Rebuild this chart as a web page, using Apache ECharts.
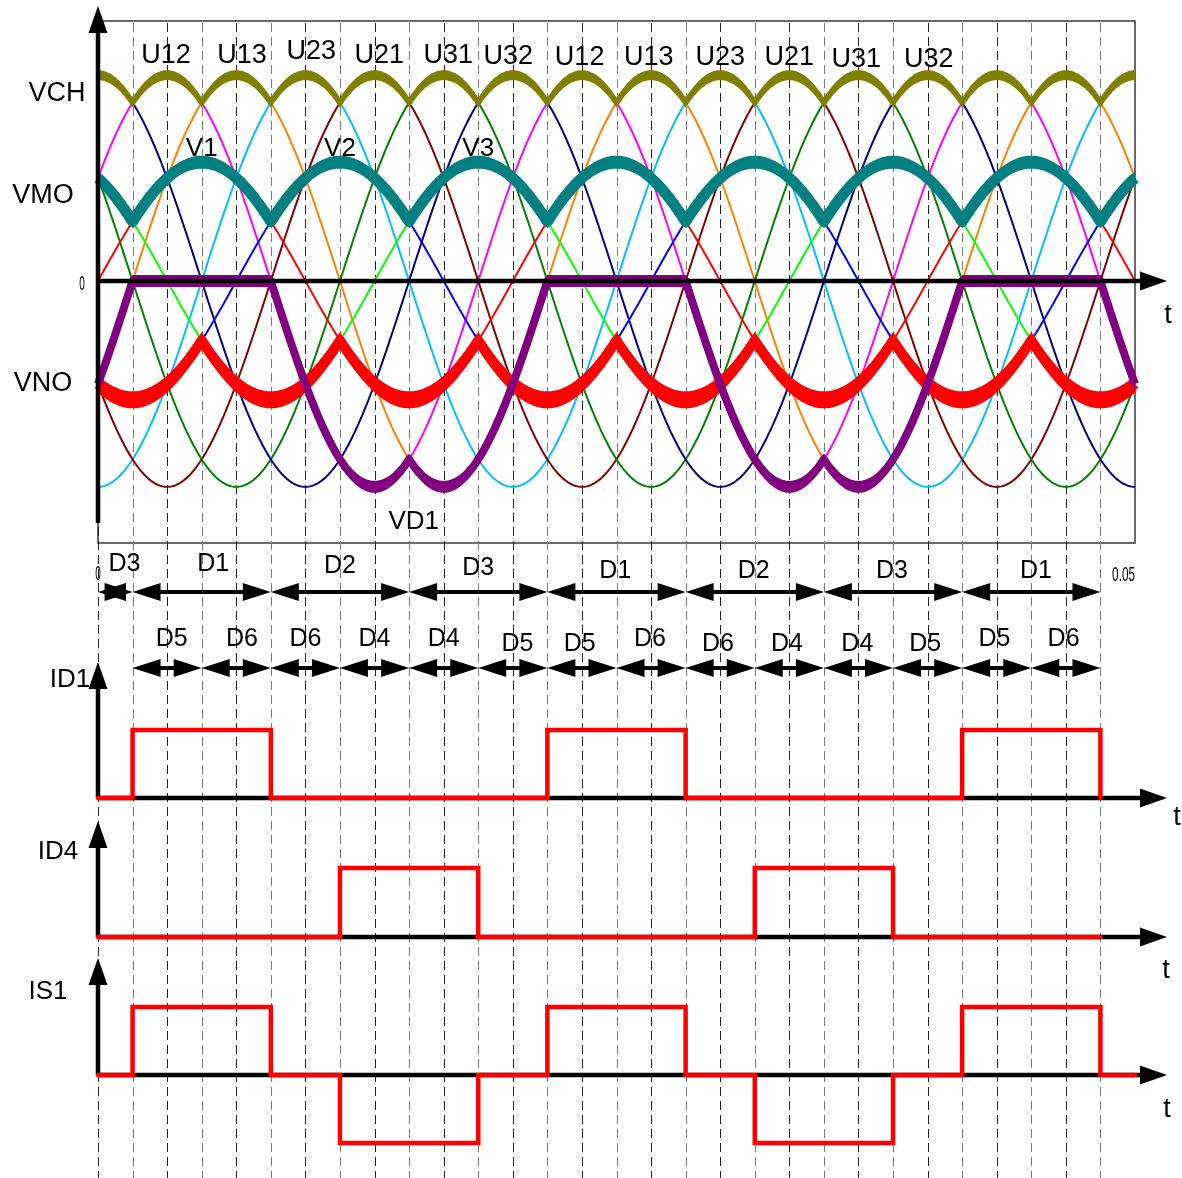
<!DOCTYPE html>
<html><head><meta charset="utf-8">
<script src="https://cdn.jsdelivr.net/npm/echarts@6/dist/echarts.min.js"></script>
<style>html,body{margin:0;padding:0;background:#fff}#c{width:1182px;height:1178px}</style>
</head><body><div id="c"></div>
<script>
// ================= DATA =================
const frequencyHz = 50;               // mains frequency (20 ms per 360 deg)
const timeEndS = 0.05;                // right edge of the plots, s
const degEnd = 900;                   // electrical degrees at timeEndS
const phaseNames = ['V1', 'V2', 'V3'];
const phaseShiftDeg = [0, -120, 120];
const phaseAmplitude = 0.577;         // p.u. (line-to-line peak = 1)
const phaseColors = ['#ff0000', '#0000ff', '#00ff00'];
const lineVoltageNames = ['U12', 'U13', 'U23', 'U21', 'U31', 'U32'];
const lineVoltagePairs = [[0, 1], [0, 2], [1, 2], [1, 0], [2, 0], [2, 1]];
const lineVoltageColors = ['#ff00ff', '#ff8000', '#00bfff', '#800000', '#008000', '#000080'];
const lineLabelText = ['U12','U13','U23','U21','U31','U32','U12','U13','U23','U21','U31','U32'];
const lineLabelDeg  = [59, 125, 185, 244, 304, 356, 418, 478, 540, 600, 658, 721];
const phaseLabelText = ['V1', 'V2', 'V3'];
const phaseLabelDeg  = [90, 210, 330];
const vd1LabelDeg = 274;
// conduction intervals, degrees
const upperDiodes = [['D3',0,30],['D1',30,150],['D2',150,270],['D3',270,390],['D1',390,510],['D2',510,630],['D3',630,750],['D1',750,870]];
const upperLabelDeg = [23, 100, 210, 330, 449, 569, 689, 814];
const lowerDiodes = [['D5',30,90],['D6',90,150],['D6',150,210],['D4',210,270],['D4',270,330],['D5',330,390],['D5',390,450],['D6',450,510],['D6',510,570],['D4',570,630],['D4',630,690],['D5',690,750],['D5',750,810],['D6',810,870]];
const lowerLabelDeg = [64, 125, 180, 240, 300, 364, 418, 479, 538, 598, 659, 718, 778, 838];
const id1OnDeg = [[30, 150], [390, 510], [750, 870]];
const id4OnDeg = [[210, 330], [570, 690]];
const id1EndDeg = 870, id4EndDeg = 870, is1EndDeg = 900;
const tickLabels = ['0', '0.05'];

// ================= LAYOUT / STYLE =================
const W = 1182, H = 1178;
const PL = 98, PR = 47;                 // plot left / right margins
const BOX_TOP = 21, BOX_BOT = 543;      // top panel frame
const TOP_ZERO = 281, TOP_UNIT = 206;   // px of zero line, px per p.u.
const lowerPanels = [
  {name: 'ID1', zero: 798, unit: 68, tip: 662, lab: [70, 680], t: [1177, 818]},
  {name: 'ID4', zero: 937, unit: 69, tip: 821, lab: [58, 852], t: [1166, 971]},
  {name: 'IS1', zero: 1075, unit: 68, tip: 958, lab: [48, 992], t: [1167, 1110]}
];
const FONT = '"Liberation Sans", Arial, Helvetica, sans-serif';
const lineLabelY = [55, 55, 51, 55, 55, 56, 57, 57, 57, 57, 59, 59];
const upperLabelY = [563, 563, 565, 567, 570, 570, 570, 570];
const lowerLabelY = [638, 638, 638, 638, 638, 643, 643, 638, 643, 643, 643, 643, 638, 638];
const ROW1_Y = 592, ROW2_Y = 668;

// ================= WAVEFORMS =================
const stepDeg = 0.5;
const thetas = [];
for (let k = 0; k * stepDeg <= degEnd + 1e-9; k++) thetas.push(k * stepDeg);
const rad = Math.PI / 180;
const phaseWave = phaseShiftDeg.map(s => thetas.map(d => phaseAmplitude * Math.sin((d + s) * rad)));
const lineWave = lineVoltagePairs.map(([a, b]) => thetas.map((d, i) => phaseWave[a][i] - phaseWave[b][i]));
const vch = thetas.map((d, i) => Math.max(...lineWave.map(w => w[i])));
const vmo = thetas.map((d, i) => Math.max(...phaseWave.map(w => w[i])));
const vno = thetas.map((d, i) => Math.min(...phaseWave.map(w => w[i])));
const vd1 = thetas.map((d, i) => phaseWave[0][i] - vmo[i]);
const pairs = arr => thetas.map((d, i) => [d, arr[i]]);

function stepPoints(intervals, endDeg) {
  const pts = [[0, 0]];
  intervals.slice().sort((p, q) => p[0] - q[0]).forEach(([a, b, lv]) => {
    pts.push([a, 0], [a, lv], [b, lv], [b, 0]);
  });
  pts.push([endDeg, 0]);
  return pts;
}
const id1Pts = stepPoints(id1OnDeg.map(v => [v[0], v[1], 1]), id1EndDeg);
const id4Pts = stepPoints(id4OnDeg.map(v => [v[0], v[1], 1]), id4EndDeg);
const is1Pts = stepPoints(id1OnDeg.map(v => [v[0], v[1], 1]).concat(id4OnDeg.map(v => [v[0], v[1], -1])), is1EndDeg);

// ================= CHART =================
const chart = echarts.init(document.getElementById('c'), null, {renderer: 'canvas', width: W, height: H});

const grids = [
  {left: PL, right: PR, top: 0, height: H},                                   // 0 overlay (pixel y)
  {left: PL, right: PR, top: BOX_TOP, height: BOX_BOT - BOX_TOP, show: true,
   borderColor: '#3a3a3a', borderWidth: 1.5, backgroundColor: 'transparent'}  // 1 top panel
];
lowerPanels.forEach(p => grids.push({left: PL, right: PR, top: p.zero - 1.5 * p.unit, height: 3 * p.unit}));

const xAxes = grids.map((g, i) => ({type: 'value', gridIndex: i, min: 0, max: degEnd, show: false}));
const yAxes = [
  {type: 'value', gridIndex: 0, min: 0, max: H, inverse: true, show: false},
  {type: 'value', gridIndex: 1, min: -(BOX_BOT - TOP_ZERO) / TOP_UNIT, max: (TOP_ZERO - BOX_TOP) / TOP_UNIT, show: false}
];
lowerPanels.forEach((p, i) => yAxes.push({type: 'value', gridIndex: i + 2, min: -1.5, max: 1.5, show: false}));

const series = [];

// dashed guide lines every 30 deg
const guideDeg = [];
for (let d = 0; d < degEnd; d += 30) guideDeg.push(d);
series.push({
  type: 'custom', xAxisIndex: 0, yAxisIndex: 0, clip: false, silent: true, z: 1,
  data: guideDeg.map(d => [d, 0]),
  renderItem: (params, api) => {
    const x = Math.round(api.coord([api.value(0), 0])[0]) + 0.5;
    return {type: 'line', shape: {x1: x, y1: BOX_TOP + 2, x2: x, y2: H},
      style: {stroke: params.dataIndex % 2 ? '#7a7a7a' : '#222', lineWidth: 1, lineDash: [9, 5]}};
  }
});

// thin phase and line voltages
lineWave.forEach((w, i) => series.push({
  type: 'line', name: lineVoltageNames[i], xAxisIndex: 1, yAxisIndex: 1, data: pairs(w),
  showSymbol: false, symbol: 'none', silent: true, z: 2, animation: false,
  lineStyle: {color: lineVoltageColors[i], width: 2}
}));
phaseWave.forEach((w, i) => series.push({
  type: 'line', name: phaseNames[i], xAxisIndex: 1, yAxisIndex: 1, data: pairs(w),
  showSymbol: false, symbol: 'none', silent: true, z: 2, animation: false,
  lineStyle: {color: phaseColors[i], width: 2}
}));

// thick envelope curves (line + vertical ripple band)
function thick(name, arr, color, lw, ripple, z) {
  const pts = pairs(arr);
  return {
    type: 'custom', name, xAxisIndex: 1, yAxisIndex: 1, clip: false, silent: true, z,
    data: [[0, 0]],
    renderItem: (params, api) => {
      const px = pts.map(p => api.coord(p));
      const children = [];
      if (ripple > 0) {
        const poly = px.map(p => [p[0], p[1] - ripple]).concat(px.slice().reverse().map(p => [p[0], p[1] + ripple]));
        children.push({type: 'polygon', shape: {points: poly}, style: {fill: color, stroke: null}});
      }
      children.push({type: 'polyline', shape: {points: px}, style: {stroke: color, lineWidth: lw, fill: null, lineJoin: 'round'}});
      return {type: 'group', children};
    }
  };
}
series.push(thick('VMO', vmo, '#008080', 11, 6.5, 3));
series.push(thick('VCH', vch, '#808000', 5, 5, 3));
series.push(thick('VNO', vno, '#ff0000', 10, 8.5, 4));
series.push(thick('VD1', vd1, '#800080', 8, 6, 5));

// axes with arrow heads
const AX_W = 4.5, HEAD_L = 27, HEAD_HW = 9.5;
const hAxes = [TOP_ZERO].concat(lowerPanels.map(p => p.zero));
const vAxes = [[523, 6]].concat(lowerPanels.map(p => [p.zero, p.tip]));
series.push({
  type: 'custom', xAxisIndex: 0, yAxisIndex: 0, clip: false, silent: true, z: 8,
  data: [[0, 0]],
  renderItem: (params, api) => {
    const x0 = api.coord([0, 0])[0];
    const xTip = api.coord([degEnd, 0])[0] + 32;
    const ch = [];
    hAxes.forEach(y => {
      ch.push({type: 'line', shape: {x1: x0, y1: y, x2: xTip - HEAD_L + 2, y2: y}, style: {stroke: '#000', lineWidth: AX_W}});
      ch.push({type: 'polygon', shape: {points: [[xTip, y], [xTip - HEAD_L, y - HEAD_HW], [xTip - HEAD_L, y + HEAD_HW]]}, style: {fill: '#000'}});
    });
    vAxes.forEach(([yb, yt]) => {
      ch.push({type: 'line', shape: {x1: x0, y1: yb, x2: x0, y2: yt + HEAD_L - 2}, style: {stroke: '#000', lineWidth: AX_W}});
      ch.push({type: 'polygon', shape: {points: [[x0, yt], [x0 - HEAD_HW, yt + HEAD_L], [x0 + HEAD_HW, yt + HEAD_L]]}, style: {fill: '#000'}});
    });
    return {type: 'group', children: ch};
  }
});

// square waves (on top of their axes)
[id1Pts, id4Pts, is1Pts].forEach((pts, i) => series.push({
  type: 'line', name: lowerPanels[i].name, xAxisIndex: i + 2, yAxisIndex: i + 2, data: pts,
  showSymbol: false, symbol: 'none', silent: true, z: 9, animation: false,
  lineStyle: {color: '#ff0000', width: 4.5, cap: 'round', join: 'miter'}
}));

// conduction interval arrows
const ARW_L = 28, ARW_HW = 9, ARW_W = 4;
const arrowData = upperDiodes.map(d => [d[1], d[2], ROW1_Y]).concat(lowerDiodes.map(d => [d[1], d[2], ROW2_Y]));
series.push({
  type: 'custom', xAxisIndex: 0, yAxisIndex: 0, clip: false, silent: true, z: 8,
  data: arrowData,
  encode: {x: [0, 1], y: 2},
  renderItem: (params, api) => {
    const y = api.value(2);
    const a = api.coord([api.value(0), y]), b = api.coord([api.value(1), y]);
    const yy = a[1];
    return {type: 'group', children: [
      {type: 'line', shape: {x1: a[0] + 6, y1: yy, x2: b[0] - 6, y2: yy}, style: {stroke: '#000', lineWidth: ARW_W}},
      {type: 'polygon', shape: {points: [[a[0], yy], [a[0] + ARW_L, yy - ARW_HW], [a[0] + ARW_L, yy + ARW_HW]]}, style: {fill: '#000'}},
      {type: 'polygon', shape: {points: [[b[0], yy], [b[0] - ARW_L, yy - ARW_HW], [b[0] - ARW_L, yy + ARW_HW]]}, style: {fill: '#000'}}
    ]};
  }
});

// text annotations positioned along the time axis
const texts = [];
lineLabelText.forEach((t, i) => texts.push({deg: lineLabelDeg[i], y: lineLabelY[i], t, s: 27}));
phaseLabelText.forEach((t, i) => texts.push({deg: phaseLabelDeg[i], y: 148, t, s: 26}));
texts.push({deg: vd1LabelDeg, y: 521, t: 'VD1', s: 26});
upperDiodes.forEach((d, i) => texts.push({deg: upperLabelDeg[i], y: upperLabelY[i], t: d[0], s: 25}));
lowerDiodes.forEach((d, i) => texts.push({deg: lowerLabelDeg[i], y: lowerLabelY[i], t: d[0], s: 25}));
series.push({
  type: 'custom', xAxisIndex: 0, yAxisIndex: 0, clip: false, silent: true, z: 10,
  data: texts.map(o => [o.deg, o.y]),
  renderItem: (params, api) => {
    const o = texts[params.dataIndex];
    const p = api.coord([api.value(0), api.value(1)]);
    return {type: 'text', x: p[0], y: p[1] + 1, style: {text: o.t, fill: '#000', font: o.s + 'px ' + FONT,
      align: 'center', verticalAlign: 'middle', textAlign: 'center', textVerticalAlign: 'middle'}};
  }
});

// fixed labels
function gText(t, x, y, size, align, sx) {
  return {type: 'text', x, y, scaleX: sx || 1, z: 20, silent: true,
    style: {text: t, fill: '#000', font: size + 'px ' + FONT, align: align || 'center', verticalAlign: 'middle',
      textAlign: align || 'center', textVerticalAlign: 'middle'}};
}
const graphics = [
  gText('VCH', 57, 94, 27), gText('VMO', 43, 196, 27), gText('VNO', 43, 384, 27),
  gText('t', 1168, 316, 27),
  gText(tickLabels[0], 82, 284, 20, 'center', 0.5),
  gText(tickLabels[0], 98, 574, 20, 'center', 0.5),
  gText(tickLabels[1], 1135, 575, 21, 'right', 0.56)
];
lowerPanels.forEach(p => {
  graphics.push(gText(p.name, p.lab[0], p.lab[1], 26));
  graphics.push(gText('t', p.t[0], p.t[1], 27));
});

chart.setOption({
  animation: false,
  backgroundColor: '#fff',
  grid: grids, xAxis: xAxes, yAxis: yAxes,
  series,
  graphic: {elements: graphics}
});
</script>
</body></html>
